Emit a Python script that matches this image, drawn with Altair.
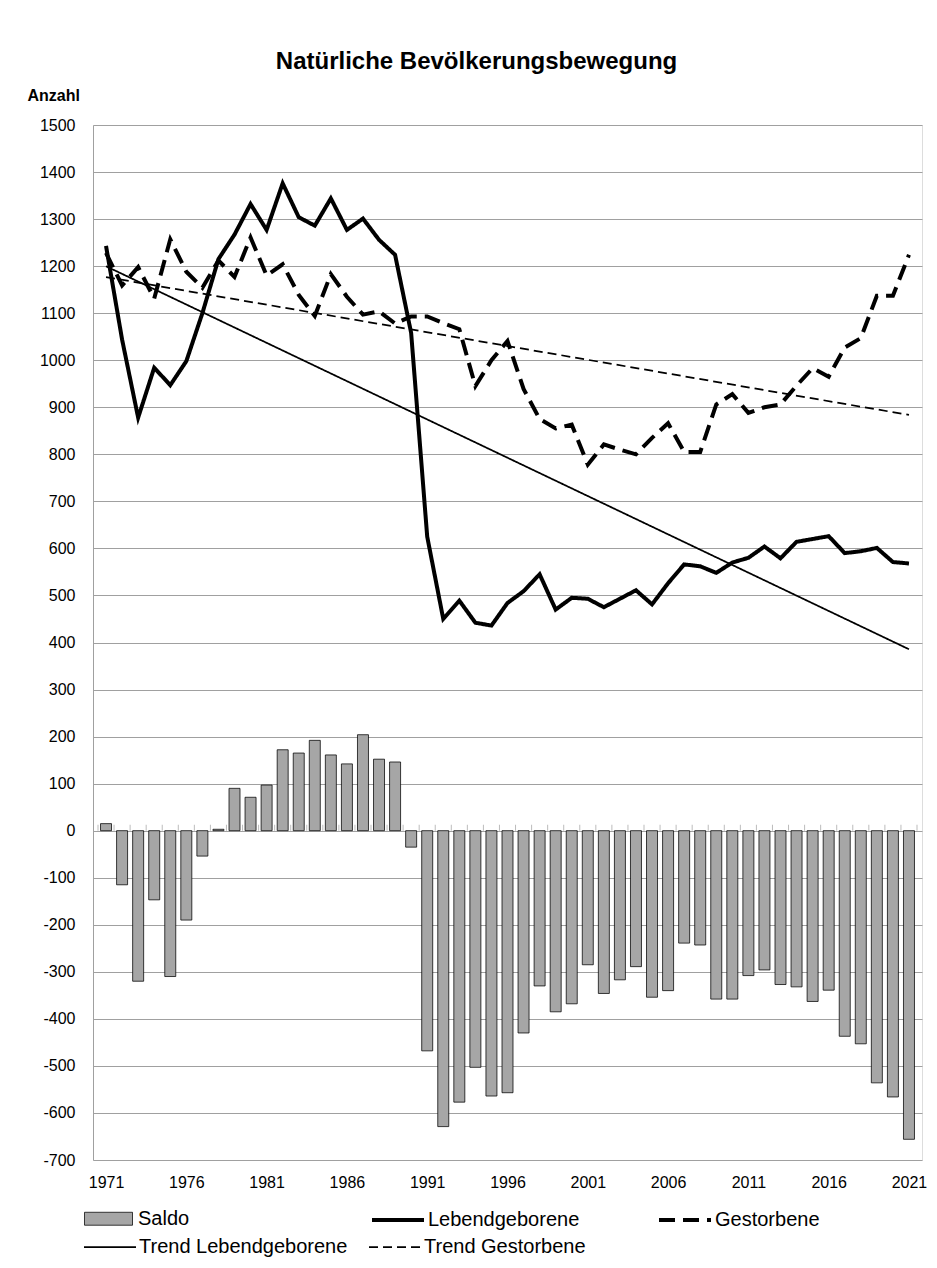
import altair as alt
import pandas as pd

FONT = "Liberation Sans"

years = list(range(1971, 2022))
saldo = [15, -115, -320, -147, -310, -190, -54, 3, 90, 71, 97, 172, 165, 192, 161, 142, 204, 152, 146, -35,
         -468, -629, -577, -503, -564, -557, -430, -330, -385, -368, -285, -346, -317, -289, -354, -340, -239,
         -243, -358, -358, -308, -296, -327, -332, -363, -339, -437, -453, -536, -566, -656]
lebend = [1243, 1044, 878, 984, 947, 998, 1100, 1215, 1267, 1332, 1277, 1376, 1304, 1286, 1344, 1277, 1301, 1256, 1224, 1058,
          625, 450, 489, 442, 436, 484, 509, 545, 470, 495, 493, 475, 493, 511, 481, 526, 566, 562, 548, 570, 580,
          604, 579, 614, 620, 626, 590, 594, 601, 571, 568]
gestorben = [1228, 1159, 1198, 1131, 1257, 1188, 1154, 1212, 1177, 1261, 1180, 1204, 1139, 1094, 1183, 1135, 1097, 1104, 1078, 1093,
             1093, 1079, 1066, 945, 1000, 1041, 939, 875, 855, 863, 778, 821, 810, 800, 835, 866, 805, 805, 906, 928, 888,
             900, 906, 946, 983, 965, 1027, 1047, 1137, 1137, 1224]

bar_series = ["Saldo"]
main_series = ["Lebendgeborene", "Gestorbene"]
trend_series = ["Trend Lebendgeborene", "Trend Gestorbene"]
main_dash = [[1, 0], [16, 8]]
trend_dash = [[1, 0], [9, 5]]
main_width = [4, 4]
trend_width = [1.75, 1.75]
x_ticks = years[::5]
y_ticks = list(range(-700, 1501, 100))

bars_df = pd.DataFrame({"year": years, "value": saldo, "series": "Saldo"})
lines_df = pd.concat([
    pd.DataFrame({"year": years, "value": lebend, "series": "Lebendgeborene"}),
    pd.DataFrame({"year": years, "value": gestorben, "series": "Gestorbene"}),
])
bound_df = pd.DataFrame({"b": [y - 0.5 for y in years] + [years[-1] + 0.5]})

xscale = alt.Scale(domain=[years[0] - 0.5, years[-1] + 0.5], nice=False, zero=False)
yscale = alt.Scale(domain=[-700, 1500], nice=False, zero=False)

legend_common = dict(title=None, orient="none", padding=0, labelFont=FONT, labelFontSize=20,
                     labelColor="#000000", labelLimit=400, direction="horizontal", columns=2, gridAlign="all")

x_enc = alt.X("year:Q", scale=xscale, axis=alt.Axis(
    values=x_ticks, labelExpr="'' + datum.value", title=None, grid=False, ticks=False, domain=False,
    labelFont=FONT, labelFontSize=16, labelColor="#000000", labelPadding=14))
y_enc = alt.Y("value:Q", scale=yscale, axis=alt.Axis(
    values=y_ticks, labelExpr="'' + datum.value", title="Anzahl", titleAngle=0, titleAlign="left",
    titleBaseline="alphabetic", titleX=-66, titleY=-25, titleFont=FONT, titleFontSize=16,
    titleFontWeight="bold", titleColor="#000000", labelFont=FONT, labelFontSize=16, labelColor="#000000",
    labelPadding=18, ticks=False, domainColor="#a0a0a0", gridColor="#a0a0a0", gridWidth=1))

bars = alt.Chart(bars_df).mark_bar(size=11, stroke="#000000", strokeWidth=0.75).encode(
    x=x_enc, y=y_enc,
    color=alt.Color("series:N", scale=alt.Scale(domain=bar_series, range=["#a6a6a6"]),
                    legend=alt.Legend(legendX=-9, legendY=1069, symbolType="M-1,-0.27H1V0.27H-1Z",
                                      symbolSize=2304, labelOffset=5, symbolStrokeColor="#000000",
                                      symbolStrokeWidth=0.75, symbolFillColor="#a6a6a6", **legend_common)))

zero_ticks = alt.Chart(bound_df).mark_tick(orient="vertical", size=6, thickness=1, color="#a0a0a0", yOffset=-3).encode(
    x=alt.X("b:Q", scale=xscale), y=alt.datum(0))

main_lines = alt.Chart(lines_df).mark_line().encode(
    x=x_enc, y=y_enc,
    color=alt.Color("series:N", scale=alt.Scale(domain=main_series, range=["#000000", "#000000"]),
                    legend=alt.Legend(legendX=277, legendY=1067, symbolType="stroke", symbolSize=2704,
                                      labelOffset=2, columnPadding=71, **legend_common)),
    strokeDash=alt.StrokeDash("series:N", scale=alt.Scale(domain=main_series, range=main_dash), legend=None),
    strokeWidth=alt.StrokeWidth("series:N", scale=alt.Scale(domain=main_series, range=main_width), legend=None),
)

trend_lines = alt.Chart(lines_df).transform_regression(
    "year", "value", groupby=["series"], method="linear", extent=[years[0], years[-1]]
).transform_calculate(series="'Trend ' + datum.series").mark_line().encode(
    x=x_enc, y=y_enc,
    color=alt.Color("series:N", scale=alt.Scale(domain=trend_series, range=["#000000", "#000000"]),
                    legend=alt.Legend(legendX=-10, legendY=1095, symbolType="stroke", symbolSize=2704,
                                      labelOffset=2, columnPadding=17, **legend_common)),
    strokeDash=alt.StrokeDash("series:N", scale=alt.Scale(domain=trend_series, range=trend_dash), legend=None),
    strokeWidth=alt.StrokeWidth("series:N", scale=alt.Scale(domain=trend_series, range=trend_width), legend=None),
)

chart = alt.layer(bars, zero_ticks, main_lines, trend_lines).resolve_scale(
    color="independent", strokeDash="independent", strokeWidth="independent"
).properties(
    width=829, height=1035, autosize="none",
    padding={"left": 85, "top": 117, "right": 7, "bottom": 100},
    title=alt.TitleParams("Natürliche Bevölkerungsbewegung", font=FONT, fontSize=24, fontWeight="bold",
                          color="#000000", anchor="middle", dx=-31, offset=13),
).configure_view(stroke=None).configure(background="#ffffff")

chart.save("out.html", embed_options={"renderer": "svg", "actions": False})
